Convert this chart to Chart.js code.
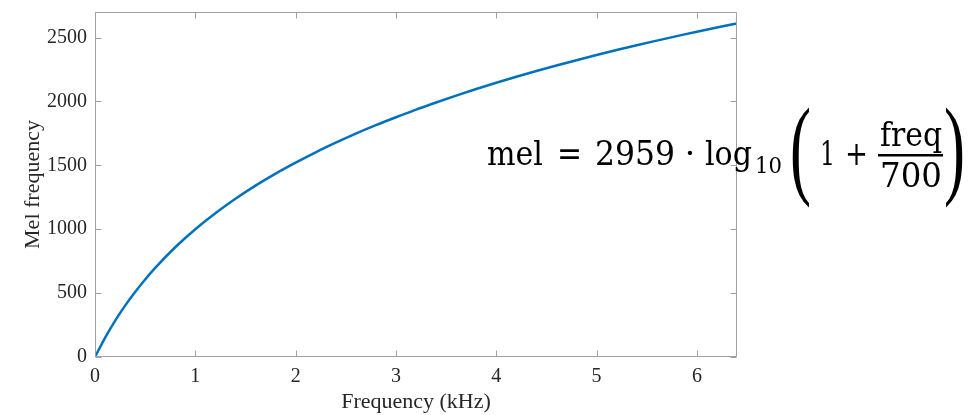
<!DOCTYPE html>
<html>
<head>
<meta charset="utf-8">
<script src="https://cdn.jsdelivr.net/npm/chart.js@4/dist/chart.umd.min.js"></script>
<style>
  html, body { margin: 0; padding: 0; background: #ffffff; }
  #wrap { position: relative; width: 975px; height: 415px; }
  #c { position: absolute; left: 0; top: 0; }
  #formula { position: absolute; left: 0; top: 0; pointer-events: none; }
  #formula text { font-family: "DejaVu Serif", "Liberation Serif", serif; fill: #000; }
  #formula text.paren { font-family: "Liberation Serif", serif; }
</style>
</head>
<body>
<div id="wrap">
  <canvas id="c" width="975" height="415"></canvas>
  <svg id="formula" width="975" height="415" xmlns="http://www.w3.org/2000/svg">
    <text x="487" y="165" font-size="33" textLength="56" lengthAdjust="spacingAndGlyphs">mel</text>
    <text x="557" y="165" font-size="33" textLength="25" lengthAdjust="spacingAndGlyphs">=</text>
    <text x="595" y="165" font-size="33" textLength="80" lengthAdjust="spacingAndGlyphs">2959</text>
    <text x="690" y="165" font-size="33" text-anchor="middle">·</text>
    <text x="705" y="165" font-size="33" textLength="47" lengthAdjust="spacingAndGlyphs">log</text>
    <text x="755" y="173" font-size="23" textLength="27" lengthAdjust="spacingAndGlyphs">10</text>
    <text class="paren" transform="translate(790,184) scale(1,2.2)" x="0" y="0" font-size="50" textLength="21" lengthAdjust="spacingAndGlyphs">(</text>
    <text x="820" y="165" font-size="33" textLength="15" lengthAdjust="spacingAndGlyphs">1</text>
    <text x="845" y="165" font-size="33" textLength="23" lengthAdjust="spacingAndGlyphs">+</text>
    <text x="880" y="146" font-size="33" textLength="62" lengthAdjust="spacingAndGlyphs">freq</text>
    <rect x="878" y="154" width="65" height="2.5" fill="#000"></rect>
    <text x="880" y="187" font-size="33" textLength="62" lengthAdjust="spacingAndGlyphs">700</text>
    <text class="paren" transform="translate(944,184) scale(1,2.2)" x="0" y="0" font-size="50" textLength="21" lengthAdjust="spacingAndGlyphs">)</text>
  </svg>
</div>
<script>
// ---- data ----
const freqKHz = [0, 0.1, 0.2, 0.3, 0.4, 0.5, 0.6, 0.8, 1.0, 1.2, 1.4, 1.6, 1.8, 2.0,
  2.2, 2.4, 2.6, 2.8, 3.0, 3.2, 3.4, 3.6, 3.8, 4.0, 4.2, 4.4, 4.6, 4.8, 5.0,
  5.2, 5.4, 5.6, 5.8, 6.0, 6.2, 6.4];
const melValues = [0, 150, 283, 402, 509, 607, 698, 859, 1000, 1125, 1238, 1341, 1435, 1521,
  1602, 1677, 1748, 1814, 1876, 1936, 1992, 2046, 2097, 2146, 2193, 2238, 2281, 2323, 2363,
  2402, 2440, 2476, 2511, 2546, 2579, 2611];
const xTickValues = [0, 1, 2, 3, 4, 5, 6];
const yTickValues = [0, 500, 1000, 1500, 2000, 2500];
const xAxisLabel = 'Frequency (kHz)';
const yAxisLabel = 'Mel frequency';

const points = freqKHz.map((f, i) => ({ x: f, y: melValues[i] }));

const AXIS_COLOR = '#a0a0a0';
const TEXT_COLOR = '#262626';
const FONT = '"Liberation Serif", "Times New Roman", serif';

const boxPlugin = {
  id: 'matlabBox',
  afterDatasetsDraw(chart) {
    const { ctx, chartArea: a, scales } = chart;
    const L = Math.round(a.left) + 0.5, R = Math.round(a.right) - 0.5;
    const T = Math.round(a.top) + 0.5, B = Math.round(a.bottom) - 0.5;
    ctx.save();
    ctx.strokeStyle = AXIS_COLOR;
    ctx.lineWidth = 1;
    ctx.beginPath();
    ctx.rect(L, T, R - L, B - T);
    const tl = 6;
    xTickValues.forEach(v => {
      const px = Math.round(scales.x.getPixelForValue(v)) + 0.5;
      ctx.moveTo(px, B); ctx.lineTo(px, B - tl);
      ctx.moveTo(px, T); ctx.lineTo(px, T + tl);
    });
    yTickValues.forEach(v => {
      const py = Math.round(scales.y.getPixelForValue(v)) + 0.5;
      ctx.moveTo(L, py); ctx.lineTo(L + tl, py);
      ctx.moveTo(R, py); ctx.lineTo(R - tl, py);
    });
    ctx.stroke();
    ctx.restore();
  }
};

new Chart(document.getElementById('c'), {
  type: 'line',
  data: {
    datasets: [{
      data: points,
      borderColor: '#0072BD',
      borderWidth: 2.5,
      pointRadius: 0,
      fill: false,
      cubicInterpolationMode: 'monotone'
    }]
  },
  options: {
    responsive: false,
    animation: false,
    devicePixelRatio: 1,
    layout: { padding: { left: 0, right: 238, top: 12, bottom: 0 } },
    plugins: { legend: { display: false }, tooltip: { enabled: false } },
    scales: {
      x: {
        type: 'linear',
        min: 0, max: 6.4,
        afterFit(scale) { scale.height = 58; scale.paddingLeft = 0; scale.paddingRight = 0; },
        afterBuildTicks(scale) { scale.ticks = xTickValues.map(v => ({ value: v })); },
        ticks: { stepSize: 1, includeBounds: false, color: TEXT_COLOR, padding: 8,
                 font: { family: FONT, size: 20 }, maxRotation: 0,
                 callback: v => String(v) },
        grid: { display: false, drawTicks: false },
        border: { display: false },
        title: { display: true, text: xAxisLabel, color: TEXT_COLOR,
                 font: { family: FONT, size: 22 }, padding: { top: 0, bottom: 0 } }
      },
      y: {
        type: 'linear',
        min: 0, max: 2700,
        afterFit(scale) { scale.width = 95; scale.paddingTop = 0; scale.paddingBottom = 0; },
        afterBuildTicks(scale) { scale.ticks = yTickValues.map(v => ({ value: v })); },
        ticks: { stepSize: 500, includeBounds: false, color: TEXT_COLOR, padding: 8,
                 font: { family: FONT, size: 20 }, callback: v => String(v) },
        grid: { display: false, drawTicks: false },
        border: { display: false },
        title: { display: true, text: yAxisLabel, color: TEXT_COLOR,
                 font: { family: FONT, size: 22 }, padding: { top: 20, bottom: 0 } }
      }
    }
  },
  plugins: [boxPlugin]
});
</script>
</body>
</html>
